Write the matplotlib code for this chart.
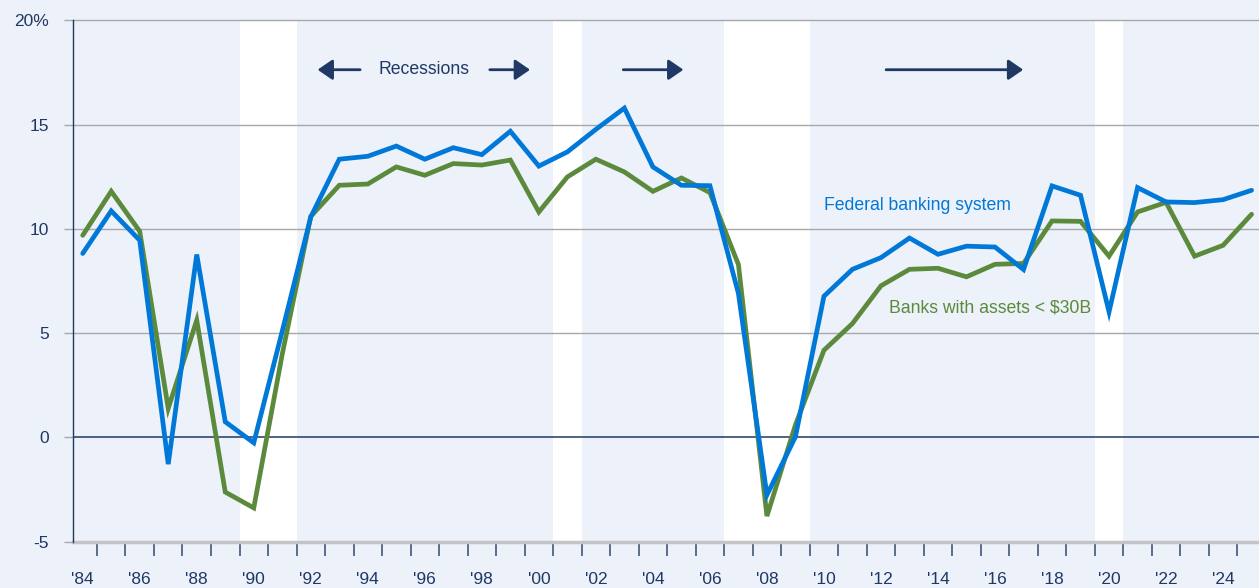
import matplotlib
matplotlib.use("Agg")
import matplotlib.pyplot as plt
import numpy as np

plt.rcParams['font.family'] = ['Liberation Sans', 'DejaVu Sans']

# data: return on equity (%), yearly
years = list(range(1984, 2026))
federal = [8.82, 10.86, 9.45, -1.28, 8.77, 0.75, -0.26, 5.1, 10.57, 13.34,
           13.48, 13.97, 13.34, 13.89, 13.56, 14.68, 13.01, 13.69, 14.77, 15.79,
           12.97, 12.09, 12.07, 6.90, -2.76, 0.03, 6.77, 8.06, 8.62, 9.56,
           8.78, 9.17, 9.13, 8.05, 12.06, 11.61, 6.02, 11.98, 11.29, 11.26,
           11.40, 11.85]
small_banks = [9.69, 11.80, 9.88, 1.39, 5.62, -2.62, -3.38, 4.0, 10.6, 12.09,
               12.15, 12.97, 12.57, 13.13, 13.06, 13.30, 10.81, 12.49, 13.34, 12.73,
               11.80, 12.44, 11.74, 8.29, -3.77, 0.6, 4.18, 5.46, 7.27, 8.06,
               8.11, 7.70, 8.30, 8.34, 10.38, 10.36, 8.69, 10.81, 11.27, 8.69,
               9.21, 10.70]
recessions = [(1989.5, 1991.5), (2000.5, 2001.5), (2006.5, 2009.5), (2019.5, 2020.5)]
yticks = [-5, 0, 5, 10, 15, 20]
ytick_labels = ['-5', '0', '5', '10', '15', '20%']
label_years = list(range(1984, 2025, 2))

bg = '#edf1f9'
navy = '#1f3864'
blue = '#0078d7'
green = '#5b8a3c'
grid_c = '#a8a8ac'

fig = plt.figure(figsize=(12.59, 5.88), dpi=100, facecolor=bg)
ax = fig.add_axes([73.3 / 1259, (588 - 541.7) / 588, 1 - 73.3 / 1259, (541.7 - 20.3) / 588])
ax.set_facecolor(bg)

# recession bands (white)
for a, b in recessions:
    ax.axvspan(a, b, color='white', zorder=0.5, lw=0)

# horizontal grid
for v in [5, 10, 15, 20]:
    ax.axhline(v, color=grid_c, lw=1, zorder=1, clip_on=False)
ax.axhline(0, color=navy, lw=1.1, zorder=1)

ax.plot(years, small_banks, color=green, lw=3.4, zorder=3,
        solid_capstyle='round', solid_joinstyle='miter')
ax.plot(years, federal, color=blue, lw=3.4, zorder=4,
        solid_capstyle='round', solid_joinstyle='miter')

ax.set_xlim(1983.67, 2025.26)
ax.set_ylim(-5, 20)

for s in ['top', 'right']:
    ax.spines[s].set_visible(False)
ax.spines['left'].set_color(navy)
ax.spines['left'].set_linewidth(1)
ax.spines['bottom'].set_color('#c4c4c8')
ax.spines['bottom'].set_linewidth(2.5)
ax.spines['bottom'].set_zorder(2)

# y axis
ax.set_yticks(yticks)
ax.set_yticklabels(ytick_labels)
ax.tick_params(axis='y', length=6.7, width=1, color=grid_c, pad=11,
               labelsize=12.5, labelcolor=navy)
ax.yaxis.get_major_ticks()[1].tick1line.set_color(navy)

# x axis: ticks between years, labels on even years
ax.set_xticks(np.arange(1984.5, 2025, 1))
ax.set_xticklabels([])
ax.set_xticks(label_years, minor=True)
ax.set_xticklabels(["'" + str(y)[2:] for y in label_years], minor=True)
ax.tick_params(axis='x', which='major', length=10, width=1.2, color='#44557a', direction='out')
ax.tick_params(axis='x', which='minor', length=0, pad=21.5, labelsize=12.5, labelcolor=navy)

# recession arrows
arrow_y = 17.63
ap = dict(arrowstyle='-|>,head_length=0.9,head_width=0.62', mutation_scale=10,
          lw=2, color=navy, shrinkA=0, shrinkB=0)
ax.annotate('', xy=(1992.24, arrow_y), xytext=(1993.73, arrow_y), arrowprops=ap)
ax.annotate('', xy=(1999.69, arrow_y), xytext=(1998.28, arrow_y), arrowprops=ap)
ax.annotate('', xy=(2005.07, arrow_y), xytext=(2002.96, arrow_y), arrowprops=ap)
ax.annotate('', xy=(2016.99, arrow_y), xytext=(2012.18, arrow_y), arrowprops=ap)
ax.text(1995.98, arrow_y, 'Recessions', ha='center', va='center', fontsize=12.7, color=navy)

ax.text(2010.0, 11.13, 'Federal banking system', ha='left', va='center', fontsize=12.7, color=blue)
ax.text(2012.29, 6.21, 'Banks with assets < $30B', ha='left', va='center', fontsize=12.7, color=green)

fig.savefig('out.png', dpi=100, facecolor=bg)
